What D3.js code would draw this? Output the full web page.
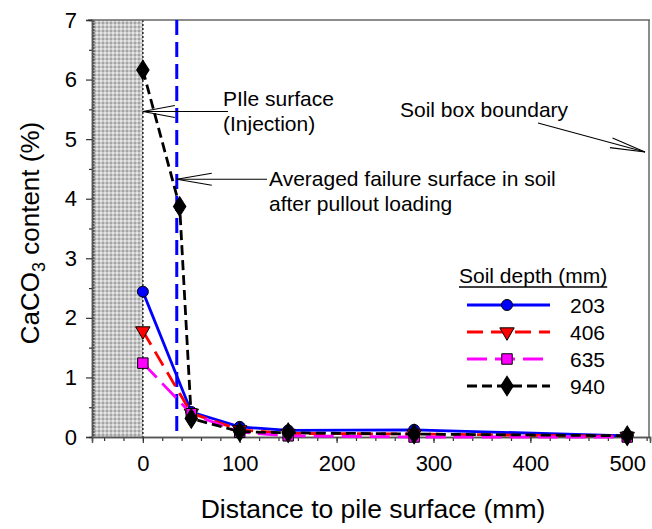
<!DOCTYPE html>
<html>
<head>
<meta charset="utf-8">
<script src="https://cdn.jsdelivr.net/npm/d3@7"></script>
<style>
  body { margin: 0; background: #fff; }
  svg { display: block; font-family: Arial, "Liberation Sans", sans-serif; }
</style>
</head>
<body>
<div id="chart"></div>
<script>
    // chart data
    var depthLabels = ["203", "406", "635", "940"];
    var dist203 = [0, 50, 100, 150, 280, 500];
    var caco3_203 = [2.44, 0.42, 0.17, 0.11, 0.12, 0.02];
    var dist406 = [0, 50, 100, 150, 280, 500];
    var caco3_406 = [1.78, 0.40, 0.12, 0.06, 0.05, 0.01];
    var dist635 = [0, 50, 100, 150, 280, 500];
    var caco3_635 = [1.24, 0.39, 0.08, 0.02, 0.0, 0.0];
    var dist940 = [0, 38, 50, 100, 150, 280, 500];
    var caco3_940 = [6.16, 3.87, 0.31, 0.09, 0.07, 0.05, 0.02];
    var xTicks = [0, 100, 200, 300, 400, 500];
    var yTicks = [0, 1, 2, 3, 4, 5, 6, 7];
    var failureSurface = 35;   // averaged failure surface (mm)

    var width = 652, height = 529;
    var margin = {left: 92, right: 2, top: 20, bottom: 92};

    var x = d3.scaleLinear().domain([-52.5, 523.5]).range([margin.left, width - margin.right]);
    var y = d3.scaleLinear().domain([0, 7]).range([height - margin.bottom, margin.top]);

    var svg = d3.select("#chart").append("svg")
        .attr("width", width)
        .attr("height", height);

    // texture for the pile
    var defs = svg.append("defs");
    var pat = defs.append("pattern")
        .attr("id", "pile")
        .attr("width", 4).attr("height", 4)
        .attr("patternUnits", "userSpaceOnUse");
    pat.append("rect").attr("width", 4).attr("height", 4).attr("fill", "#c8c8c8");
    pat.append("rect").attr("x", 0).attr("y", 0).attr("width", 2).attr("height", 2).attr("fill", "#e6e6e6");
    pat.append("rect").attr("x", 2).attr("y", 2).attr("width", 2).attr("height", 2).attr("fill", "#a4a4a4");

    svg.append("rect")
        .attr("x", x(-52.5))
        .attr("y", y(7))
        .attr("width", x(0) - x(-52.5))
        .attr("height", y(0) - y(7))
        .attr("fill", "url(#pile)");
    svg.append("line")
        .attr("x1", x(-52.5) + 1.5).attr("x2", x(-52.5) + 1.5)
        .attr("y1", y(7)).attr("y2", y(0))
        .attr("stroke", "#555").attr("stroke-width", 2).attr("stroke-dasharray", "2,1");
    svg.append("line")
        .attr("x1", x(0)).attr("x2", x(0))
        .attr("y1", y(7)).attr("y2", y(0))
        .attr("stroke", "#222").attr("stroke-width", 1.5).attr("stroke-dasharray", "2,2");

    // frame
    svg.append("line")
        .attr("x1", margin.left - 4).attr("x2", x(523.5))
        .attr("y1", y(7)).attr("y2", y(7))
        .attr("stroke", "#666").attr("stroke-width", 1.5);
    svg.append("line")
        .attr("x1", x(523.5) - 1).attr("x2", x(523.5) - 1)
        .attr("y1", y(7)).attr("y2", y(0))
        .attr("stroke", "#666").attr("stroke-width", 1.5);

    // axes
    var xAxis = d3.axisBottom(x).tickValues(xTicks).tickSize(6).tickPadding(12).tickFormat(d3.format("d"));
    var xMinor = d3.axisBottom(x).tickValues(d3.range(-40, 521, 20)).tickSize(4).tickFormat("");
    var yAxis = d3.axisLeft(y).tickValues(yTicks).tickSize(6).tickPadding(9).tickFormat(d3.format("d"));
    var yMinor = d3.axisLeft(y).tickValues(d3.range(0.5, 7, 1)).tickSize(3).tickFormat("");

    function styleAxis(g) {
        g.select(".domain").attr("stroke", "#555").attr("stroke-width", 1.5);
        g.selectAll(".tick line").attr("stroke", "#333").attr("stroke-width", 1.2);
        g.selectAll(".tick text").attr("font-size", "22px").attr("fill", "#000")
            .attr("font-family", "Arial, 'Liberation Sans', sans-serif");
    }

    svg.append("g").attr("transform", "translate(0," + y(0) + ")").call(xMinor).call(styleAxis);
    svg.append("g").attr("transform", "translate(0," + y(0) + ")").call(xAxis).call(styleAxis);
    svg.append("g").attr("transform", "translate(" + margin.left + ",0)").call(yMinor).call(styleAxis);
    svg.append("g").attr("transform", "translate(" + margin.left + ",0)").call(yAxis).call(styleAxis);

    // failure surface
    svg.append("line")
        .attr("x1", x(failureSurface)).attr("x2", x(failureSurface))
        .attr("y1", y(7)).attr("y2", y(0))
        .attr("stroke", "#0000ff").attr("stroke-width", 3).attr("stroke-dasharray", "15,7");

    // series
    var series = [
        {name: depthLabels[0], xs: dist203, ys: caco3_203, color: "#0000ff", dash: null, marker: "circle"},
        {name: depthLabels[1], xs: dist406, ys: caco3_406, color: "#ff0000", dash: "16,8", marker: "triangleDown"},
        {name: depthLabels[2], xs: dist635, ys: caco3_635, color: "#ff00ff", dash: "20,8", marker: "square"},
        {name: depthLabels[3], xs: dist940, ys: caco3_940, color: "#000000", dash: "10,5", marker: "diamond"}
    ];

    var symbols = {
        circle: d3.symbol().type(d3.symbolCircle).size(95),
        triangleDown: d3.symbol().type(d3.symbolTriangle).size(90),
        square: d3.symbol().type(d3.symbolSquare).size(110),
        diamond: d3.symbol().type(d3.symbolDiamond).size(110)
    };

    function drawMarker(g, s, px, py) {
        var rot = s.marker === "triangleDown" ? " rotate(180)" : "";
        var sc = s.marker === "diamond" ? " scale(1.1,1)" : "";
        g.append("path")
            .attr("d", symbols[s.marker]())
            .attr("transform", "translate(" + px + "," + py + ")" + rot + sc)
            .attr("fill", s.color)
            .attr("stroke", "#000")
            .attr("stroke-width", 1);
    }

    var line = d3.line()
        .x(function (d) { return x(d[0]); })
        .y(function (d) { return y(d[1]); });

    series.forEach(function (s) {
        var pts = s.xs.map(function (v, i) { return [v, s.ys[i]]; });
        var g = svg.append("g").attr("class", "series");
        g.append("path")
            .datum(pts)
            .attr("d", line)
            .attr("fill", "none")
            .attr("stroke", s.color)
            .attr("stroke-width", 2.8)
            .attr("stroke-dasharray", s.dash);
        pts.forEach(function (p) {
            drawMarker(g, s, x(p[0]), y(p[1]));
        });
    });

    // annotations with open arrow heads
    function arrow(x1, y1, x2, y2, len, half) {
        var dx = x1 - x2, dy = y1 - y2;
        var l = Math.sqrt(dx * dx + dy * dy);
        var ux = dx / l, uy = dy / l;
        var nx = -uy, ny = ux;
        var g = svg.append("g").attr("stroke", "#000").attr("stroke-width", 1.1).attr("fill", "none");
        g.append("line").attr("x1", x1).attr("y1", y1).attr("x2", x2).attr("y2", y2);
        g.append("line").attr("x1", x2).attr("y1", y2)
            .attr("x2", x2 + ux * len + nx * half).attr("y2", y2 + uy * len + ny * half);
        g.append("line").attr("x1", x2).attr("y1", y2)
            .attr("x2", x2 + ux * len - nx * half).attr("y2", y2 + uy * len - ny * half);
    }

    function label(tx, ty, lines) {
        var t = svg.append("text")
            .attr("x", tx).attr("y", ty)
            .attr("font-size", "21px")
            .attr("fill", "#000");
        lines.forEach(function (s, i) {
            t.append("tspan").attr("x", tx).attr("dy", i === 0 ? 0 : 24.5).text(s);
        });
    }

    arrow(228, 111.5, x(0), 111.5, 32, 6);
    label(223, 106, ["PIle surface", "(Injection)"]);

    arrow(267, 179.3, x(failureSurface), 179.3, 35, 6);
    label(269, 186, ["Averaged failure surface in soil", "after pullout loading"]);

    arrow(538, 123, 645, 152, 35, 5);
    label(400, 117, ["Soil box boundary"]);

    // legend
    var legend = svg.append("g").attr("transform", "translate(459,0)");
    var lt = legend.append("text")
        .attr("x", 0).attr("y", 283)
        .attr("font-size", "21px")
        .text("Soil depth (mm)");
    var tw = lt.node().getComputedTextLength();
    legend.append("line")
        .attr("x1", 0).attr("x2", tw)
        .attr("y1", 287).attr("y2", 287)
        .attr("stroke", "#000").attr("stroke-width", 1.6);

    series.forEach(function (s, i) {
        var ly = 305 + i * 27;
        legend.append("line")
            .attr("x1", 8).attr("x2", 91)
            .attr("y1", ly).attr("y2", ly)
            .attr("stroke", s.color)
            .attr("stroke-width", 2.8)
            .attr("stroke-dasharray", s.dash);
        drawMarker(legend, s, 48, ly);
        legend.append("text")
            .attr("x", 111).attr("y", ly + 7.5)
            .attr("font-size", "21px")
            .text(s.name);
    });

    // axis titles
    svg.append("text")
        .attr("x", 373).attr("y", 518)
        .attr("text-anchor", "middle")
        .attr("font-size", "26.5px")
        .text("Distance to pile surface (mm)");

    var yt = svg.append("text")
        .attr("transform", "translate(39,233) rotate(-90)")
        .attr("text-anchor", "middle")
        .attr("font-size", "26px");
    yt.append("tspan").text("CaCO");
    yt.append("tspan").attr("font-size", "18px").attr("dy", 6).text("3");
    yt.append("tspan").attr("dy", -6).text(" content (%)");
</script>
</body>
</html>
